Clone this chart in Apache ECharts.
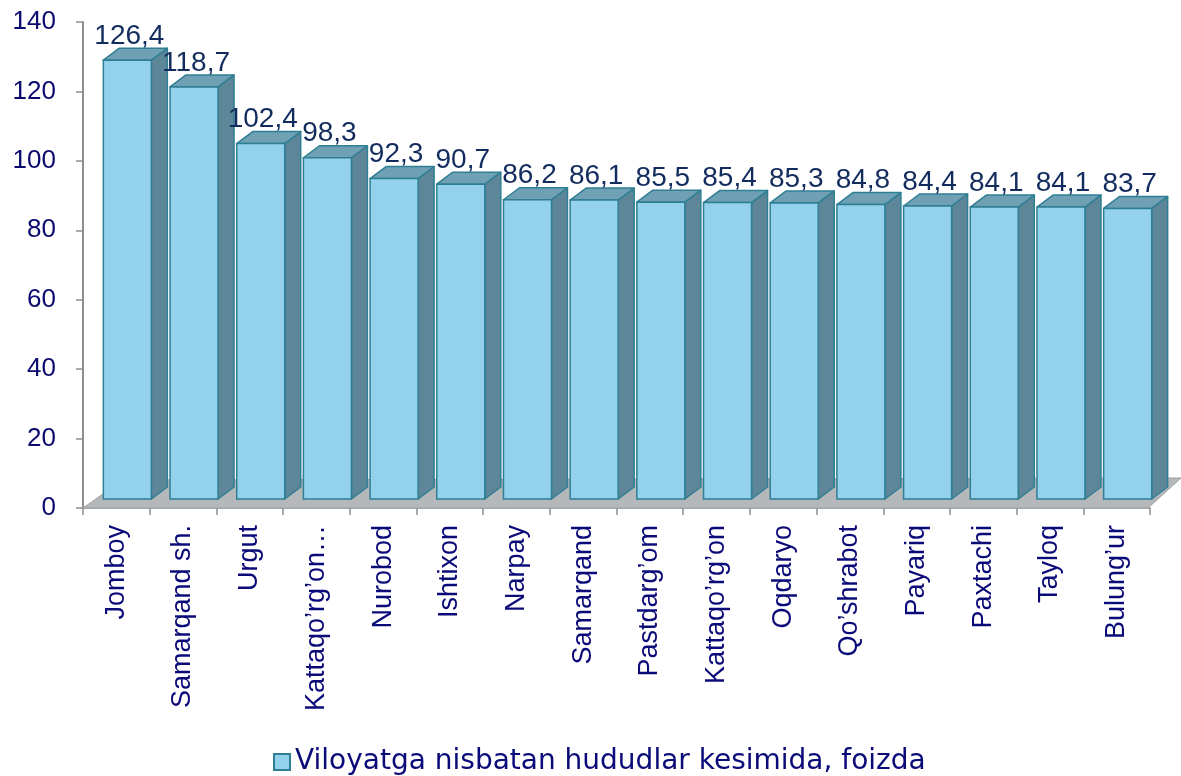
<!DOCTYPE html>
<html>
<head>
<meta charset="utf-8">
<script src="https://cdn.jsdelivr.net/npm/echarts@6/dist/echarts.min.js"></script>
<style>
html,body{margin:0;padding:0;background:#fff;}
#chart{width:1181px;height:776px;}
</style>
</head>
<body>
<div id="chart"></div>
<script>
var categories = ['Jomboy','Samarqand sh.','Urgut','Kattaqo\u2019rg\u2019on\u2026','Nurobod','Ishtixon','Narpay','Samarqand','Pastdarg\u2019om','Kattaqo\u2019rg\u2019on','Oqdaryo','Qo\u2019shrabot','Payariq','Paxtachi','Tayloq','Bulung\u2019ur'];
var values = [126.4,118.7,102.4,98.3,92.3,90.7,86.2,86.1,85.5,85.4,85.3,84.8,84.4,84.1,84.1,83.7];
var seriesName = 'Viloyatga nisbatan hududlar kesimida, foizda';
var yTicks = { min: 0, max: 140, interval: 20 };

var FRONT = '#93D1EC', EDGE = '#2F7F94', TOP = '#6FA0B4', SIDE = '#5E8699';
var OX = 11, OY = -9, DX = 16, DY = -12;

var chart = echarts.init(document.getElementById('chart'), null, {renderer:'canvas'});

function renderFloor(params, api) {
  var cs = params.coordSys;
  var x0 = cs.x, y0 = cs.y + cs.height, x1 = cs.x + cs.width - 2;
  return {
    type: 'polygon',
    shape: { points: [[x0, y0], [x1, y0], [x1 + 33, y0 - 30], [x0 + 40, y0 - 28]] },
    style: { fill: '#B5B8BB', stroke: '#9C9EA0', lineWidth: 1 },
    silent: true
  };
}

function renderBar(params, api) {
  var i = api.value(0), v = api.value(1);
  var base = api.coord([i, 0]);
  var top = api.coord([i, v]);
  var half = api.size([1, 0])[0] * 0.36;
  var L = base[0] - half + OX, R = base[0] + half + OX;
  var T = top[1] + OY, B = base[1] + OY;
  var label = String(v.toFixed(1)).replace('.', ',');
  return {
    type: 'group',
    children: [
      { type: 'polygon', shape: { points: [[R, T], [R + DX, T + DY], [R + DX, B + DY], [R, B]] },
        style: { fill: SIDE, stroke: EDGE, lineWidth: 1.5, lineJoin: 'round' } },
      { type: 'polygon', shape: { points: [[L, T], [R, T], [R + DX, T + DY], [L + DX, T + DY]] },
        style: { fill: TOP, stroke: EDGE, lineWidth: 1.5, lineJoin: 'round' } },
      { type: 'rect', shape: { x: L, y: T, width: R - L, height: B - T },
        style: { fill: FRONT, stroke: EDGE, lineWidth: 1.5 } },
      { type: 'text', x: (L + R) / 2 + 2, y: T + DY + 2,
        style: { text: label, fill: '#132C5E', fontSize: 28, fontFamily: 'Liberation Sans, Arial, sans-serif',
          align: 'center', verticalAlign: 'bottom' } }
    ]
  };
}

var barData = values.map(function (v, i) { return [i, v]; });

chart.setOption({
  animation: false,
  backgroundColor: '#ffffff',
  grid: { left: 83, right: 31, top: 22, bottom: 268, containLabel: false },
  legend: {
    data: [{ name: seriesName, icon: 'rect' }],
    left: 268, top: 743,
    itemWidth: 16, itemHeight: 16, itemGap: 6,
    selectedMode: false,
    itemStyle: { borderColor: EDGE, borderWidth: 2 },
    textStyle: { color: '#0A0A78', fontSize: 28, fontFamily: 'DejaVu Sans, sans-serif', padding: [0, 0, 0, 0] }
  },
  xAxis: {
    type: 'category',
    data: categories,
    boundaryGap: true,
    axisLine: { show: true, lineStyle: { color: '#8E8E8E', width: 1.5 } },
    axisTick: { show: true, length: 7, lineStyle: { color: '#8E8E8E', width: 1.5 } },
    axisLabel: { rotate: 90, margin: 17, color: '#0A0A78', fontSize: 27, fontFamily: 'Liberation Sans, Arial, sans-serif', interval: 0 }
  },
  yAxis: {
    type: 'value',
    min: yTicks.min, max: yTicks.max, interval: yTicks.interval,
    axisLine: { show: true, lineStyle: { color: '#8E8E8E', width: 2 } },
    axisTick: { show: true, length: 7, lineStyle: { color: '#8E8E8E', width: 1.5 } },
    splitLine: { show: false },
    axisLabel: { margin: 27, color: '#0A0A6E', fontSize: 26, fontFamily: 'Liberation Sans, Arial, sans-serif', padding: [5, 0, 0, 0] }
  },
  series: [
    { type: 'custom', name: 'floor', renderItem: renderFloor, data: [[0, 0]], silent: true, z: 1 },
    { type: 'custom', name: seriesName, renderItem: renderBar, data: barData, z: 3,
      itemStyle: { color: FRONT, borderColor: EDGE }, encode: { x: 0, y: 1 } }
  ]
});
</script>
</body>
</html>
